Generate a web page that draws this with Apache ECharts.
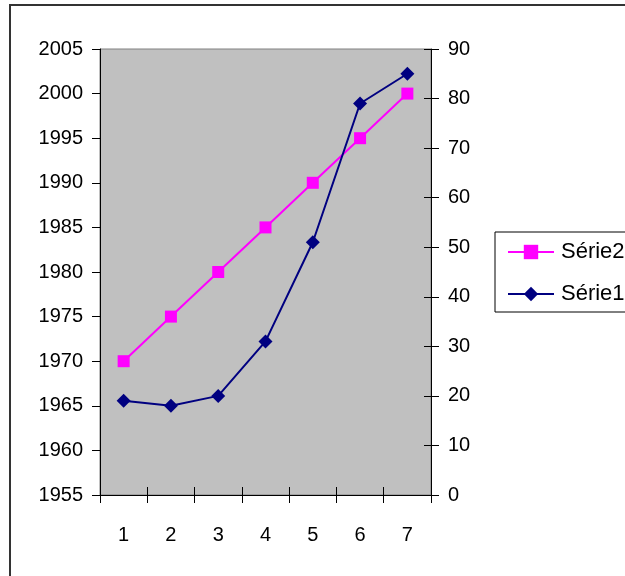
<!DOCTYPE html>
<html>
<head>
<meta charset="utf-8">
<script src="https://cdn.jsdelivr.net/npm/echarts@6/dist/echarts.min.js"></script>
<style>html,body{margin:0;padding:0;background:#fff;}#c{width:625px;height:576px;}</style>
</head>
<body>
<div id="c"></div>
<script>
var categories = ['1', '2', '3', '4', '5', '6', '7'];
var serie2 = [1970, 1975, 1980, 1985, 1990, 1995, 2000];
var serie1 = [19, 18, 20, 31, 51, 79, 85];
var leftTicks = { min: 1955, max: 2005, interval: 5 };
var rightTicks = { min: 0, max: 90, interval: 10 };

var chart = echarts.init(document.getElementById('c'), null, { renderer: 'canvas' });
var font = '"Liberation Sans", Arial, sans-serif';
var lbl = { color: '#000', fontSize: 20, fontFamily: font };
function plain(v) { return String(v); }
chart.setOption({
  animation: false,
  backgroundColor: '#fff',
  graphic: [
    { type: 'rect', shape: { x: 10, y: 5, width: 700, height: 700 }, style: { fill: 'none', stroke: '#333', lineWidth: 2 }, z: 0 },
    { type: 'rect', shape: { x: 495, y: 232, width: 200, height: 80 }, style: { fill: '#fff', stroke: '#000', lineWidth: 1 }, z: 1 }
  ],
  grid: { left: 100, top: 49, right: 194, bottom: 81, show: true, backgroundColor: '#C0C0C0', borderColor: '#808080', borderWidth: 1 },
  legend: {
    orient: 'vertical', left: 502, top: 236, itemWidth: 46, itemHeight: 18, itemGap: 20,
    textStyle: { fontSize: 22, fontFamily: font, color: '#000', padding: [0, 0, 0, 2] },
    data: ['Série2', 'Série1'], z: 5
  },
  xAxis: [
    { type: 'category', data: categories, boundaryGap: true, position: 'bottom',
      axisLine: { lineStyle: { color: '#000', width: 1 } },
      axisTick: { show: true, length: 8, lineStyle: { color: '#000' } },
      axisLabel: Object.assign({ margin: 30 }, lbl), splitLine: { show: false } },
    { type: 'category', data: categories, boundaryGap: true, position: 'bottom',
      axisLine: { show: false }, axisTick: { show: true, inside: true, length: 8, lineStyle: { color: '#000' } },
      axisLabel: { show: false }, splitLine: { show: false } }
  ],
  yAxis: [
    { type: 'value', position: 'left', min: leftTicks.min, max: leftTicks.max, interval: leftTicks.interval,
      axisLine: { show: true, lineStyle: { color: '#000' } },
      axisTick: { show: true, length: 8, lineStyle: { color: '#000' } },
      axisLabel: Object.assign({ margin: 17, formatter: plain }, lbl), splitLine: { show: false } },
    { type: 'value', position: 'right', min: rightTicks.min, max: rightTicks.max, interval: rightTicks.interval,
      axisLine: { show: true, lineStyle: { color: '#000' } },
      axisTick: { show: true, length: 8, lineStyle: { color: '#000' } },
      axisLabel: Object.assign({ margin: 17, formatter: plain }, lbl), splitLine: { show: false } },
    { type: 'value', position: 'right', min: rightTicks.min, max: rightTicks.max, interval: rightTicks.interval,
      axisLine: { show: false }, axisTick: { show: true, inside: true, length: 7, lineStyle: { color: '#000' } },
      axisLabel: { show: false }, splitLine: { show: false } }
  ],
  series: [
    { name: 'Série2', type: 'line', data: serie2, yAxisIndex: 0, symbol: 'rect', symbolSize: 12,
      lineStyle: { color: '#FF00FF', width: 2 }, itemStyle: { color: '#FF00FF' }, z: 3 },
    { name: 'Série1', type: 'line', data: serie1, yAxisIndex: 1, symbol: 'diamond', symbolSize: 14,
      lineStyle: { color: '#000080', width: 2 }, itemStyle: { color: '#000080' }, z: 4 }
  ]
});
</script>
</body>
</html>
